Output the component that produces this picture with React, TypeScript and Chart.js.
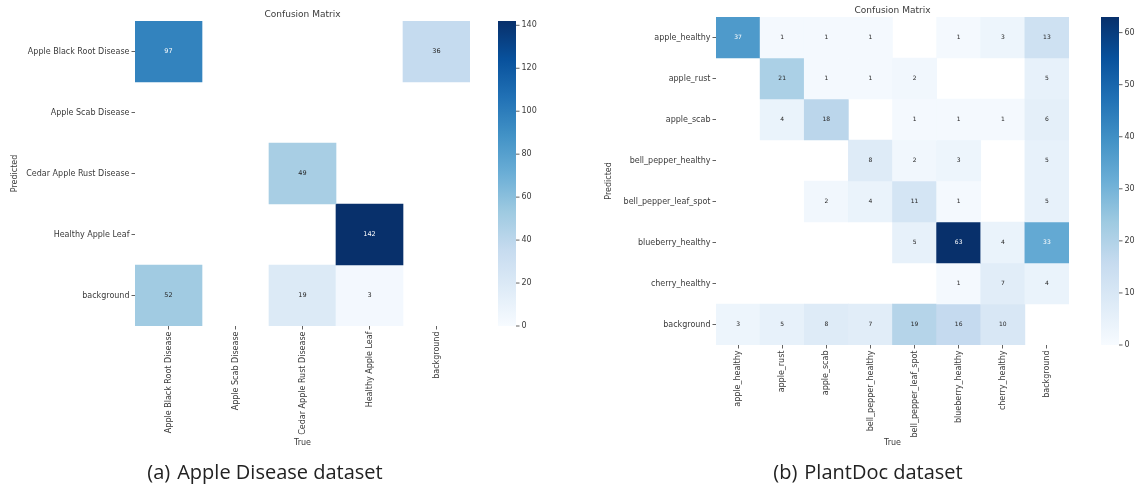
import React, { useEffect, useRef } from 'react';
import { Chart, registerables } from 'chart.js';

Chart.register(...registerables);

// ---------------- data ----------------
const appleClasses = [
  'Apple Black Root Disease',
  'Apple Scab Disease',
  'Cedar Apple Rust Disease',
  'Healthy Apple Leaf',
  'background',
];
// rows = Predicted, columns = True
const appleRowBlackRot = [97, 0, 0, 0, 36];
const appleRowScab = [0, 0, 0, 0, 0];
const appleRowCedar = [0, 0, 49, 0, 0];
const appleRowHealthy = [0, 0, 0, 142, 0];
const appleRowBackground = [52, 0, 19, 3, 0];
const appleCbTicks = [0, 20, 40, 60, 80, 100, 120, 140];

const plantClasses = [
  'apple_healthy',
  'apple_rust',
  'apple_scab',
  'bell_pepper_healthy',
  'bell_pepper_leaf_spot',
  'blueberry_healthy',
  'cherry_healthy',
  'background',
];
const plantRowAppleHealthy = [37, 1, 1, 1, 0, 1, 3, 13];
const plantRowAppleRust = [0, 21, 1, 1, 2, 0, 0, 5];
const plantRowAppleScab = [0, 4, 18, 0, 1, 1, 1, 6];
const plantRowPepperHealthy = [0, 0, 0, 8, 2, 3, 0, 5];
const plantRowPepperSpot = [0, 0, 2, 4, 11, 1, 0, 5];
const plantRowBlueberry = [0, 0, 0, 0, 5, 63, 4, 33];
const plantRowCherry = [0, 0, 0, 0, 0, 1, 7, 4];
const plantRowBackground = [3, 5, 8, 7, 19, 16, 10, 0];
const plantCbTicks = [0, 10, 20, 30, 40, 50, 60];

const appleMatrix = [appleRowBlackRot, appleRowScab, appleRowCedar, appleRowHealthy, appleRowBackground];
const plantMatrix = [
  plantRowAppleHealthy,
  plantRowAppleRust,
  plantRowAppleScab,
  plantRowPepperHealthy,
  plantRowPepperSpot,
  plantRowBlueberry,
  plantRowCherry,
  plantRowBackground,
];

// ---------------- colormap ----------------
const BLUES = ['#f7fbff', '#deebf7', '#c6dbef', '#9ecae1', '#6baed6', '#4292c6', '#2171b5', '#08519c', '#08306b'];
function hexToRgb(h: string) {
  return [parseInt(h.slice(1, 3), 16), parseInt(h.slice(3, 5), 16), parseInt(h.slice(5, 7), 16)];
}
function bluesRgb(t: number) {
  const tt = Math.max(0, Math.min(1, t));
  const p = tt * (BLUES.length - 1);
  const i = Math.min(Math.floor(p), BLUES.length - 2);
  const f = p - i;
  const a = hexToRgb(BLUES[i]);
  const b = hexToRgb(BLUES[i + 1]);
  return a.map((v, k) => Math.round(v + (b[k] - v) * f));
}
function blues(t: number) {
  const c = bluesRgb(t);
  return `rgb(${c[0]},${c[1]},${c[2]})`;
}
function luminance(c: number[]) {
  const lin = c.map((v) => {
    const s = v / 255;
    return s <= 0.03928 ? s / 12.92 : Math.pow((s + 0.055) / 1.055, 2.4);
  });
  return 0.2126 * lin[0] + 0.7152 * lin[1] + 0.0722 * lin[2];
}

const FONT = 'DejaVu Sans';
const TXT = '#3a3a3a';

type Geom = {
  width: number;
  height: number;
  left: number;
  right: number;
  top: number;
  bottom: number;
  titleTop: number;
  predPad: number;
  trueBottom: number;
  cbGap: number;
  cbWidth: number;
  annotSize: number;
};

function Heatmap(props: { classes: string[]; matrix: number[][]; cbTicks: number[]; g: Geom }) {
  const ref = useRef<HTMLCanvasElement | null>(null);
  useEffect(() => {
    const { classes, matrix, cbTicks, g } = props;
    const n = classes.length;
    const vmax = Math.max(...matrix.map((r) => Math.max(...r)));

    const datasets = matrix.map((row, r) => ({
      label: classes[r],
      data: row.map((v) => (v > 0 ? [r, r + 1] : null)),
      backgroundColor: row.map((v) => blues(v / vmax)),
      borderWidth: 0,
      grouped: false,
      barPercentage: 1,
      categoryPercentage: 1,
    }));

    const annotPlugin = {
      id: 'cellAnnot',
      afterDatasetsDraw(chart: any) {
        const ctx = chart.ctx;
        ctx.save();
        ctx.font = `${g.annotSize}px "${FONT}"`;
        ctx.textAlign = 'center';
        ctx.textBaseline = 'middle';
        matrix.forEach((row, r) => {
          const meta = chart.getDatasetMeta(r);
          row.forEach((v, c) => {
            if (!v) return;
            const el = meta.data[c];
            if (!el) return;
            const p = el.getCenterPoint();
            const lum = luminance(bluesRgb(v / vmax));
            ctx.fillStyle = lum > 0.408 ? '#262626' : '#ffffff';
            ctx.fillText(String(v), p.x, p.y);
          });
        });
        ctx.restore();
      },
    };

    const cbPlugin = {
      id: 'colorbar',
      afterDraw(chart: any) {
        const ctx = chart.ctx;
        const area = chart.chartArea;
        const cb = chart.scales.cb;
        const pix = (v: number) =>
          cb && cb.bottom > cb.top
            ? cb.getPixelForValue(v)
            : area.bottom - (v / vmax) * (area.bottom - area.top);
        const x0 = area.right + g.cbGap;
        const top = pix(vmax);
        const bottom = pix(0);
        const grad = ctx.createLinearGradient(0, bottom, 0, top);
        BLUES.forEach((c, i) => grad.addColorStop(i / (BLUES.length - 1), c));
        ctx.save();
        ctx.fillStyle = grad;
        ctx.fillRect(x0, top, g.cbWidth, bottom - top);
        ctx.strokeStyle = TXT;
        ctx.lineWidth = 0.8;
        ctx.fillStyle = TXT;
        ctx.font = `8px "${FONT}"`;
        ctx.textAlign = 'left';
        ctx.textBaseline = 'middle';
        cbTicks.forEach((t) => {
          const y = pix(t);
          ctx.beginPath();
          ctx.moveTo(x0 + g.cbWidth, y);
          ctx.lineTo(x0 + g.cbWidth + 3.5, y);
          ctx.stroke();
          ctx.fillText(String(t), x0 + g.cbWidth + 5.5, y);
        });
        ctx.restore();
      },
    };

    const tickFont = { family: FONT, size: 8 };
    const chart = new Chart(ref.current as HTMLCanvasElement, {
      type: 'bar',
      data: { labels: classes, datasets: datasets as any },
      options: {
        responsive: false,
        animation: false,
        devicePixelRatio: 1,
        layout: { padding: { left: 0, right: g.width - g.right, top: 0, bottom: 0 } },
        plugins: {
          legend: { display: false },
          tooltip: { enabled: false },
          title: {
            display: true,
            text: 'Confusion Matrix',
            fullSize: false,
            color: TXT,
            font: { family: FONT, size: 9, weight: 'normal', lineHeight: 1.2 },
            padding: { top: g.titleTop, bottom: Math.max(0, g.top - g.titleTop - 10.8) },
          },
        },
        scales: {
          x: {
            type: 'category',
            offset: true,
            border: { display: false },
            grid: {
              display: true,
              drawOnChartArea: false,
              drawTicks: true,
              tickLength: 3.5,
              offset: false,
              color: TXT,
              lineWidth: 0.8,
            },
            ticks: {
              autoSkip: false,
              maxRotation: 90,
              minRotation: 90,
              padding: 2,
              color: TXT,
              font: tickFont,
            },
            title: {
              display: true,
              text: 'True',
              color: TXT,
              font: tickFont,
              padding: { top: 0, bottom: g.trueBottom },
            },
            afterFit: (s: any) => {
              s.height = g.height - g.bottom;
            },
          },
          y: {
            type: 'linear',
            min: 0,
            max: n,
            reverse: true,
            border: { display: false },
            grid: {
              display: true,
              drawOnChartArea: false,
              drawTicks: true,
              tickLength: 3.5,
              color: TXT,
              lineWidth: 0.8,
            },
            afterBuildTicks: (s: any) => {
              s.ticks = classes.map((_, i) => ({ value: i + 0.5 }));
            },
            ticks: {
              padding: 2,
              color: TXT,
              font: tickFont,
              callback: (v: any) => classes[Math.floor(Number(v))],
            },
            title: {
              display: true,
              text: 'Predicted',
              color: TXT,
              font: tickFont,
              padding: { top: g.predPad, bottom: 0 },
            },
            afterFit: (s: any) => {
              s.width = g.left;
            },
          },
          cb: {
            type: 'linear',
            display: false,
            position: 'right',
            min: 0,
            max: vmax,
          },
        },
      } as any,
      plugins: [annotPlugin, cbPlugin],
    });
    return () => chart.destroy();
  }, []);
  return (
    <canvas
      ref={ref}
      width={props.g.width}
      height={props.g.height}
      style={{ width: props.g.width, height: props.g.height, display: 'block' }}
    />
  );
}

const leftGeom: Geom = {
  width: 570,
  height: 460,
  left: 135,
  right: 470,
  top: 21,
  bottom: 326,
  titleTop: 9.6,
  predPad: 10,
  trueBottom: 12,
  cbGap: 28,
  cbWidth: 18,
  annotSize: 6.5,
};

const rightGeom: Geom = {
  width: 572,
  height: 460,
  left: 146,
  right: 499,
  top: 17,
  bottom: 345,
  titleTop: 5.6,
  predPad: 34,
  trueBottom: 12,
  cbGap: 32,
  cbWidth: 18,
  annotSize: 6,
};

const captionStyle: React.CSSProperties = {
  position: 'absolute',
  top: 459,
  transform: 'translateX(-50%)',
  fontFamily: '"Open Sans", "Noto Sans", sans-serif',
  fontSize: 20,
  lineHeight: '26px',
  color: '#222',
  whiteSpace: 'nowrap',
};

export default function App() {
  useEffect(() => {
    document.body.style.margin = '0';
    document.body.style.background = '#ffffff';
  }, []);
  return (
    <div style={{ position: 'absolute', left: 0, top: 0, width: 1142, height: 488, background: '#fff', overflow: 'hidden' }}>
      <div style={{ position: 'absolute', left: 0, top: 0 }}>
        <Heatmap classes={appleClasses} matrix={appleMatrix} cbTicks={appleCbTicks} g={leftGeom} />
      </div>
      <div style={{ position: 'absolute', left: 570, top: 0 }}>
        <Heatmap classes={plantClasses} matrix={plantMatrix} cbTicks={plantCbTicks} g={rightGeom} />
      </div>
      <div style={{ ...captionStyle, left: 265 }}>
        <span style={{ marginRight: 7 }}>(a)</span>Apple Disease dataset
      </div>
      <div style={{ ...captionStyle, left: 868 }}>
        <span style={{ marginRight: 7 }}>(b)</span>PlantDoc dataset
      </div>
    </div>
  );
}
